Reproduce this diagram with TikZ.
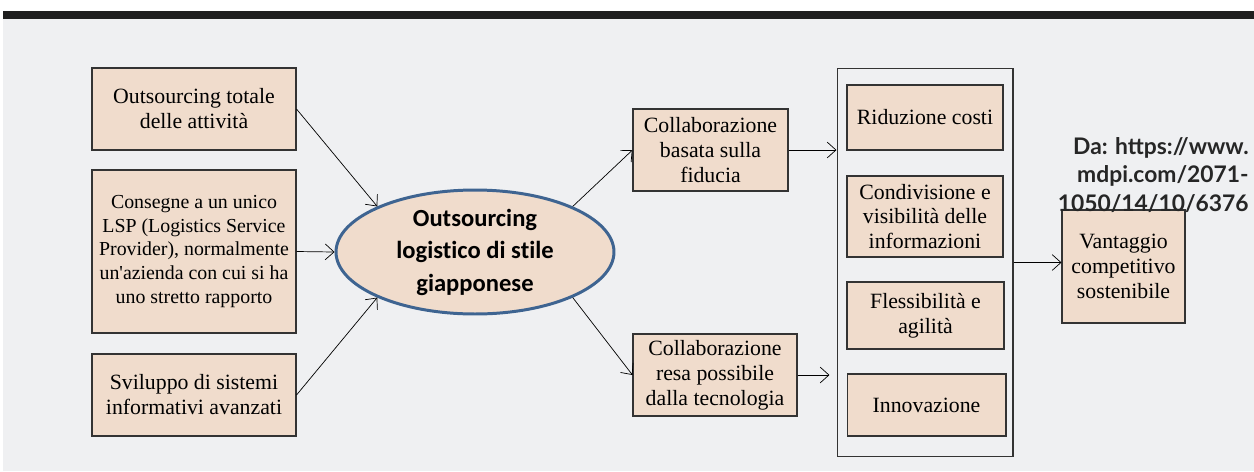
\documentclass[tikz,border=0pt]{standalone}
\usepackage{fontspec}
\setmainfont{Liberation Serif}[Ligatures=TeXOff]
\newfontfamily\ellfont[Ligatures=NoCommon]{Carlito}
\newfontfamily\srcfont{Lato}
\usetikzlibrary{shapes.geometric,arrows.meta}

\definecolor{boxfill}{RGB}{240,220,204}
\definecolor{bgrey}{RGB}{239,240,242}
\definecolor{ellblue}{RGB}{62,100,145}

\begin{document}
\begin{tikzpicture}[x=0.02cm,y=-0.02cm,
  every path/.style={>={Straight Barb[length=5pt,width=9pt]}},
  box/.style={draw=black!80,line width=0.6pt,fill=boxfill,rectangle,align=center,
    inner sep=2pt,font=\fontsize{12.4}{14.2}\selectfont},
  smallbox/.style={box,font=\fontsize{11.3}{13.5}\selectfont},
  centre/.style={draw=ellblue,line width=1.7pt,fill=boxfill,ellipse,align=center,
    inner sep=0pt,font=\ellfont\bfseries\fontsize{14}{18.5}\selectfont},
  frame/.style={draw=black!80,line width=0.6pt,rectangle,inner sep=0pt}]
\useasboundingbox (0,0) rectangle (1254,471);
\fill[white] (0,0) rectangle (1254,471);
\fill[bgrey] (3,19) rectangle (1254,471);
\fill[black!88] (3,11) rectangle (1254,19);

\node[box,minimum width=4.08cm,minimum height=1.64cm]      (b1) at (194,109)   {Outsourcing totale\\delle attività};
\node[smallbox,minimum width=4.08cm,minimum height=3.26cm] (b2) at (194,251.5) {Consegne a un unico\\LSP (Logistics Service\\Provider), normalmente\\un'azienda con cui si ha\\uno stretto rapporto};
\node[box,minimum width=4.08cm,minimum height=1.64cm]      (b3) at (194,395)   {Sviluppo di sistemi\\informativi avanzati};
\node[centre,minimum width=5.56cm,minimum height=2.48cm]   (ol) at (475,252)   {Outsourcing\\logistico di stile\\giapponese};
\node[box,minimum width=3.1cm,minimum height=1.64cm]   (c1) at (710.5,150) {Collaborazione\\basata sulla\\fiducia};
\node[box,minimum width=3.28cm,minimum height=1.64cm]  (c2) at (715,375)   {Collaborazione\\resa possibile\\dalla tecnologia};
\node[frame,minimum width=3.52cm,minimum height=7.78cm] (fr) at (925,262.5) {};
\node[box,minimum width=3.12cm,minimum height=1.3cm]   (r1) at (925,117.5)   {Riduzione costi};
\node[box,minimum width=3.12cm,minimum height=1.62cm]  (r2) at (925,216.5)   {Condivisione e\\visibilità delle\\informazioni};
\node[box,minimum width=3.14cm,minimum height=1.34cm]  (r3) at (925.5,315.5) {Flessibilità e\\agilità};
\node[box,minimum width=3.18cm,minimum height=1.24cm]  (r4) at (926.5,405)   {Innovazione};
\node[box,minimum width=2.46cm,minimum height=2.26cm]  (vc) at (1123.5,266.5) {Vantaggio\\competitivo\\sostenibile};
\node[align=right,anchor=east,inner sep=0pt,font=\srcfont\bfseries\fontsize{13}{16}\selectfont,text=black!85]
  (src) at (1249,175) {Da: https://www.\\mdpi.com/2071-\\1050/14/10/6376};

\draw[->] (b1.east) -- (ol.155);
\draw[->] (b2.east) -- (ol.west);
\draw[->] (b3.east) -- (ol.205);
\draw[->] (ol.25)   -- (c1.west);
\draw[->] (ol.335)  -- (c2.west);
\draw[->] (c1.east) -- (fr.west |- c1.east);
\draw[->,shorten >=4pt] (c2.east) -- (fr.west |- c2.east);
\draw[->] (fr.east) -- (vc.west |- fr.east);
\end{tikzpicture}
\end{document}
